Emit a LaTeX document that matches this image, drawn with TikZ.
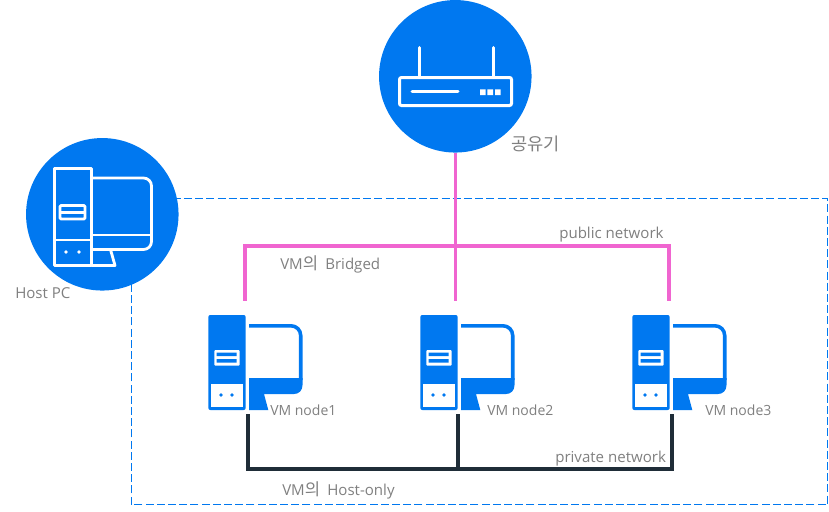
\documentclass[tikz,border=0pt]{standalone}
\usepackage{fontspec}
\setmainfont{Open Sans}
\newfontfamily\krfont{Noto Sans CJK KR}
\definecolor{iconblue}{HTML}{0078F0}
\definecolor{pubpink}{HTML}{F065D0}
\definecolor{privdark}{HTML}{1F2D38}
\definecolor{labelgray}{HTML}{7F7F7F}
\newcommand{\krbig}[1]{{\krfont\fontsize{12.5pt}{14pt}\selectfont #1}\hspace{2.4pt}}
\tikzset{
  badge/.style={circle,fill=iconblue,draw=none,minimum size=152.5*0.75pt,inner sep=0pt},
  whiteline/.style={draw=white,line width=2.8*0.75pt,line join=round},
  publine/.style={draw=pubpink,line width=3.6*0.75pt,line cap=butt,line join=miter},
  privline/.style={draw=privdark,line width=3.6*0.75pt,line cap=butt,line join=miter},
  frameline/.style={draw=iconblue,line width=1.2*0.75pt,dash pattern=on 6pt off 2.4pt},
  lbl/.style={anchor=base west,inner sep=0pt,text=labelgray,font=\fontsize{11.3pt}{13pt}\selectfont},
  vmlbl/.style={lbl,font=\fontsize{10.5pt}{12pt}\selectfont},
  vmicon/.pic={
    % tower
    \fill[iconblue,rounded corners=1.5] (208.3,315) rectangle (245.7,410);
    \fill[white] (211,384) rectangle (242.7,406.7);
    \fill[iconblue] (221,395) circle[radius=1.8*0.75pt] (232,395) circle[radius=1.8*0.75pt];
    \fill[white,rounded corners=0.8] (214.3,350) rectangle (239.7,365.7);
    \fill[iconblue] (216.7,352.7) rectangle (236.7,356) (216.7,359) rectangle (236.7,362.7);
    % monitor
    \draw[iconblue,line width=3.6*0.75pt] (249,325.8) -- (291,325.8) arc[start angle=90,end angle=0,radius=9.7*0.75pt] -- (300.7,380);
    \fill[iconblue] (249,378) -- (302.5,378) -- (302.5,385) .. controls (302.5,390.5) and (299,394) .. (294,394) -- (264,394) -- (268.3,410) -- (249,410) -- cycle;
  }
}
\begin{document}
\begin{tikzpicture}[x=0.75pt,y=-0.75pt]
\useasboundingbox (0,0) rectangle (829,511);
% frame
\draw[frameline] (131.5,504.5) -- (131.5,198.5) -- (827.7,198.5) -- (827.7,504.5) -- cycle;
% badges
\node[badge] (router) at (455.3,76.3) {};
\node[badge] (hostpc) at (102.3,214.3) {};
% router icon
\draw[white,line width=3*0.75pt,line cap=round] (419,47.5) -- (419,77.5) (493,47.5) -- (493,77.5);
\draw[white,line width=3*0.75pt,rounded corners=1.5] (399.5,77.5) rectangle (511.5,105.5);
\draw[white,line width=3*0.75pt,line cap=round] (412,91.3) -- (458,91.3);
\fill[white] (480,89.3) rectangle (485.7,95) (487.3,89.3) rectangle (493,95) (495,89.3) rectangle (500.7,95);
% host icon
\draw[whiteline] (54.5,168.5) rectangle (91.7,265.5);
\draw[whiteline] (54.5,240) -- (91.7,240);
\draw[whiteline,rounded corners=0.8] (60,205.5) rectangle (85,219);
\draw[whiteline] (60,212.2) -- (85,212.2);
\fill[white] (66,252) circle[radius=1.9*0.75pt] (79,252) circle[radius=1.9*0.75pt];
\draw[whiteline,rounded corners=8*0.75pt] (91.7,178) -- (151.5,178) -- (151.5,249.5) -- (91.7,249.5);
\draw[whiteline] (91.7,235) -- (151.5,235);
\draw[whiteline] (110.5,249.5) -- (115,265.5) -- (91.7,265.5);
% VM icons
\pic at (0,0) {vmicon};
\pic at (212,0) {vmicon};
\pic at (424,0) {vmicon};
% connector anchors
\coordinate (pubL) at (245,245.7);
\coordinate (pubM) at (455.3,245.7);
\coordinate (pubR) at (669,245.7);
\coordinate (vm1up) at (245,300.5);
\coordinate (vm2up) at (455.3,300.5);
\coordinate (vm3up) at (669,300.5);
\coordinate (privL) at (247.7,469);
\coordinate (privM) at (458,469);
\coordinate (privR) at (672,469);
\coordinate (vm1dn) at (247.7,414);
\coordinate (vm2dn) at (458,414);
\coordinate (vm3dn) at (672,414);
% public network
\draw[publine] (vm1up) -- (pubL) -- (pubR) -- (vm3up);
\draw[publine] (router.south) -- (vm2up);
% private network
\draw[privline] (vm1dn) -- (privL) -- (privR) -- (vm3dn);
\draw[privline] (vm2dn) -- (privM);
% labels
\node[lbl] (lrouter) at (511,150) {\krfont\fontsize{13.2pt}{16pt}\selectfont 공유기};
\node[lbl] (lhost) at (15,298) {Host PC};
\node[lbl] (lpub) at (559,238) {public network};
\node[lbl] (lbridged) at (280,269) {VM\krbig{의} Bridged};
\node[vmlbl] (lvm1) at (270,415) {VM node1};
\node[vmlbl] (lvm2) at (487,415) {VM node2};
\node[vmlbl] (lvm3) at (705,415) {VM node3};
\node[lbl] (lpriv) at (555,462) {private network};
\node[lbl] (lhostonly) at (282,495.5) {VM\krbig{의} Host-only};
\end{tikzpicture}
\end{document}
